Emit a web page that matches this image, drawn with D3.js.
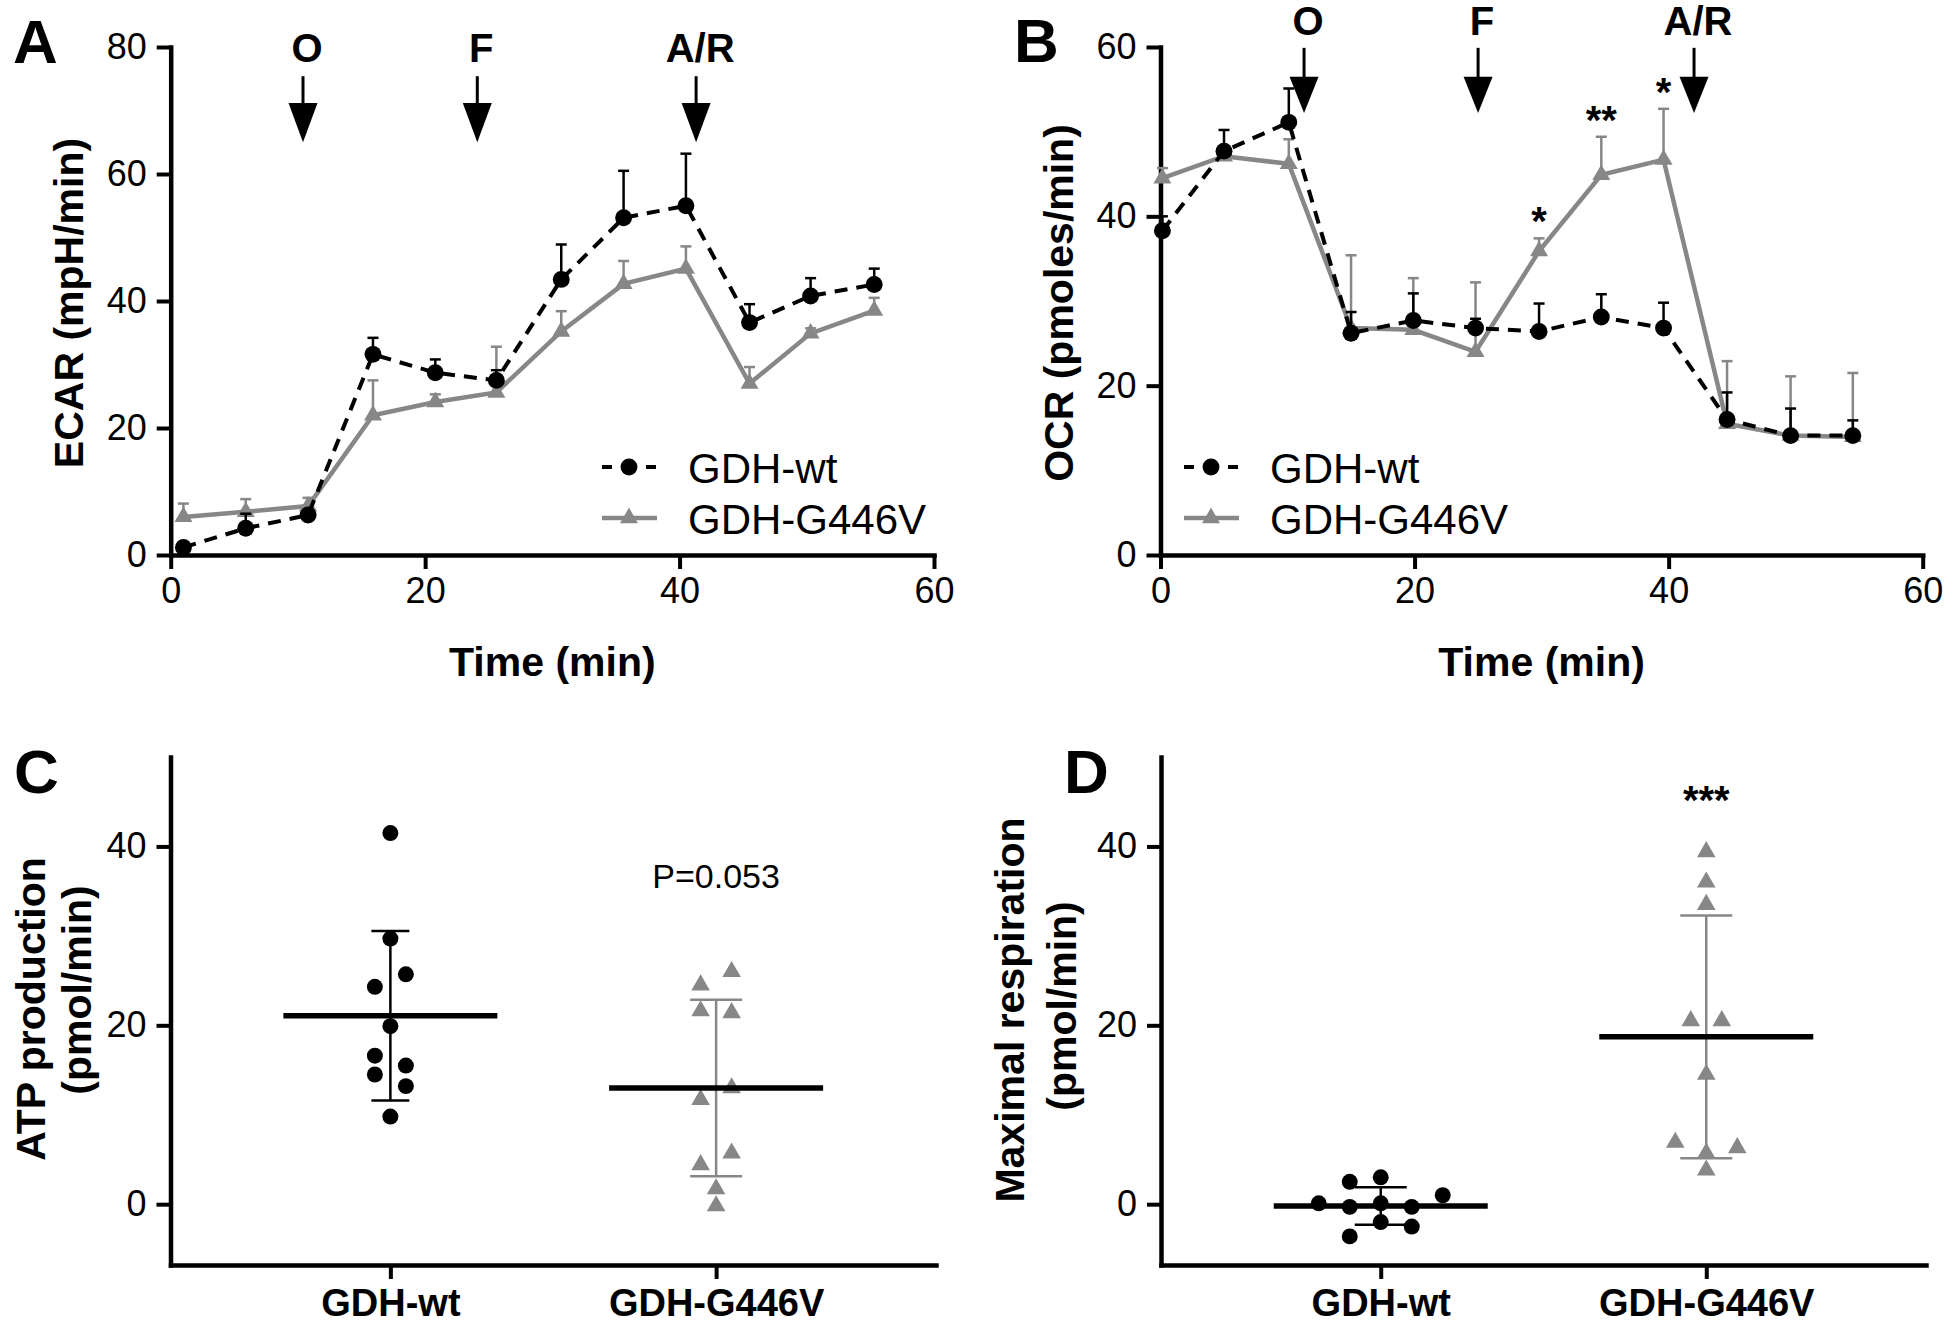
<!DOCTYPE html>
<html>
<head>
<meta charset="utf-8">
<script src="https://cdn.jsdelivr.net/npm/d3@7"></script>
<style>
  body { margin: 0; background: #fff; }
  svg text { font-family: "Liberation Sans", Arial, sans-serif; }
</style>
</head>
<body>
<svg id="fig" width="1946" height="1325"></svg>
<script>
// ---- data ----
const groups = ["GDH-wt", "GDH-G446V"];
const injections = ["O", "F", "A/R"];

// A: ECAR (mpH/min)
const ecarTime   = [1.0, 5.9, 10.8, 15.9, 20.8, 25.6, 30.7, 35.6, 40.5, 45.5, 50.3, 55.3];
const ecarWt     = [1.2, 4.2, 6.3, 31.6, 28.7, 27.5, 43.4, 53.1, 55.0, 36.6, 40.8, 42.6];
const ecarWtErr  = [0.8, 2.3, 0.8, 2.6, 2.1, 1.6, 5.5, 7.4, 8.2, 2.9, 2.8, 2.5];
const ecarMut    = [6.0, 6.8, 7.7, 22.0, 24.1, 25.6, 35.2, 42.7, 45.1, 27.0, 34.9, 38.5];
const ecarMutErr = [2.1, 2.0, 1.3, 5.5, 1.2, 7.2, 3.2, 3.6, 3.5, 2.6, 0.8, 2.0];
const ecarInjectAt = [10.4, 24.1, 41.3];

// B: OCR (pmoles/min)
const ocrTime   = [0.15, 5.0, 10.1, 15.0, 19.9, 24.8, 29.8, 34.7, 39.6, 44.6, 49.6, 54.5];
const ocrWt     = [38.3, 47.7, 51.1, 26.2, 27.7, 26.8, 26.4, 28.1, 26.8, 16.0, 14.1, 14.1];
const ocrWtErr  = [1.7, 2.5, 4.0, 2.5, 3.2, 1.1, 3.3, 2.7, 3.0, 3.2, 3.2, 1.8];
const ocrMut    = [44.5, 47.1, 46.2, 26.8, 26.6, 24.0, 35.9, 44.9, 46.7, 15.5, 14.1, 13.95];
const ocrMutErr = [1.2, 0.6, 2.9, 8.6, 6.1, 8.2, 1.5, 4.5, 6.0, 7.4, 7.0, 7.55];
const ocrStars  = ["", "", "", "", "", "", "*", "**", "*", "", "", ""];
const ocrInjectAt = [11.3, 25.0, 42.0];

// C: ATP production (pmol/min)
const atpWt      = [41.5, 29.7, 25.7, 24.3, 19.9, 16.6, 15.5, 14.5, 13.2, 9.8];
const atpWtSlot  = [0, 0, 1, -1, 0, -1, 1, -1, 1, 0];
const atpMut     = [26.0, 24.5, 21.6, 21.4, 13.0, 11.7, 5.7, 4.4, 1.7, -0.2];
const atpMutSlot = [1, -1, -1, 1, 1, -1, 1, -1, 0, 0];
const atpNote    = "P=0.053";

// D: Maximal respiration (pmol/min)
const maxWt      = [0.1, 2.5, 3.0, -0.3, 0.1, -0.3, 1.0, -2.0, -2.5, -3.6];
const maxWtSlot  = [-2, -1, 0, -1, 0, 1, 2, 0, 1, -1];
const maxMut     = [39.4, 36.0, 33.5, 20.5, 20.5, 14.5, 6.9, 6.3, 5.7, 3.8];
const maxMutSlot = [0, 0, 0, -0.5, 0.5, 0, -1, 1, 0, 0];
const maxNote    = "***";

// ---- drawing ----
const GREY = "#878787";
const svg = d3.select("#fig");

function styleAxis(g, fontSize, bold) {
  g.select(".domain").attr("stroke-width", 4.5).attr("stroke-linecap", "square");
  g.selectAll(".tick line").attr("stroke-width", 4);
  g.selectAll(".tick text")
    .attr("font-size", fontSize)
    .attr("font-weight", bold ? "bold" : "normal")
    .attr("font-family", "Liberation Sans, Arial, sans-serif")
    .attr("fill", "#000");
}

function vTitle(x, y, text) {
  svg.append("text")
    .attr("transform", `translate(${x},${y}) rotate(-90)`)
    .attr("text-anchor", "middle")
    .attr("font-size", 41).attr("font-weight", "bold")
    .text(text);
}

function letter(x, y, t) {
  svg.append("text").attr("x", x).attr("y", y)
    .attr("font-size", 62).attr("font-weight", "bold").text(t);
}

function timePanel(cfg) {
  let x = d3.scaleLinear().domain([0, 60]).range(cfg.xr);
  let y = d3.scaleLinear().domain([0, cfg.ymax]).range([555, 47]);

  //X-AXIS
  let gx = svg.append("g")
    .attr("transform", "translate(0,555)")
    .call(d3.axisBottom(x).tickValues([0, 20, 40, 60]).tickSize(14).tickPadding(8).tickSizeOuter(0));
  styleAxis(gx, 36, false);

  //Y-AXIS
  let gy = svg.append("g")
    .attr("transform", `translate(${cfg.xr[0]},0)`)
    .call(d3.axisLeft(y).tickValues(d3.range(0, cfg.ymax + 1, 20)).tickSize(14).tickPadding(10).tickSizeOuter(0));
  styleAxis(gy, 36, false);

  const series = [
    {vals: cfg.mut, err: cfg.mutErr, color: GREY, dash: null, sym: d3.symbolTriangle, size: 140},
    {vals: cfg.wt, err: cfg.wtErr, color: "#000", dash: "13,9", sym: d3.symbolCircle, size: 225}
  ];

  series.forEach(function(s) {
    let pts = cfg.time.map((t, i) => ({t: t, v: s.vals[i], e: s.err[i]}));
    let g = svg.append("g");
    // error bars (upper only)
    g.selectAll("line.eb").data(pts).enter().append("line")
      .attr("x1", d => x(d.t)).attr("x2", d => x(d.t))
      .attr("y1", d => y(d.v)).attr("y2", d => y(d.v + d.e))
      .attr("stroke", s.color).attr("stroke-width", 2.5);
    g.selectAll("line.cap").data(pts).enter().append("line")
      .attr("x1", d => x(d.t) - 5.5).attr("x2", d => x(d.t) + 5.5)
      .attr("y1", d => y(d.v + d.e)).attr("y2", d => y(d.v + d.e))
      .attr("stroke", s.color).attr("stroke-width", 2.5);
    g.append("path").datum(pts)
      .attr("d", d3.line().x(d => x(d.t)).y(d => y(d.v)))
      .attr("fill", "none").attr("stroke", s.color)
      .attr("stroke-width", s.dash ? 4 : 4.5)
      .attr("stroke-dasharray", s.dash);
    g.selectAll("path.m").data(pts).enter().append("path")
      .attr("d", d3.symbol().type(s.sym).size(s.size))
      .attr("transform", d => `translate(${x(d.t)},${y(d.v)})`)
      .attr("fill", s.color);
  });

  // significance marks
  if (cfg.stars) {
    cfg.stars.forEach(function(st, i) {
      if (!st) return;
      svg.append("text")
        .attr("x", x(cfg.time[i])).attr("y", y(cfg.mut[i] + cfg.mutErr[i]) - 3)
        .attr("text-anchor", "middle").attr("font-size", 40).attr("font-weight", "bold")
        .text(st);
    });
  }

  // injection arrows
  injections.forEach(function(lab, i) {
    let ax = x(cfg.inject[i]);
    svg.append("text").attr("x", ax + 4).attr("y", y(cfg.arrow.label))
      .attr("text-anchor", "middle").attr("font-size", 40).attr("font-weight", "bold")
      .text(lab);
    svg.append("line").attr("x1", ax).attr("x2", ax)
      .attr("y1", y(cfg.arrow.top)).attr("y2", y(cfg.arrow.head) + 2)
      .attr("stroke", "#000").attr("stroke-width", 3);
    let ht = y(cfg.arrow.head), tp = y(cfg.arrow.tip);
    svg.append("path")
      .attr("d", `M${ax - 14.5},${ht}L${ax + 14.5},${ht}L${ax},${tp}Z`)
      .attr("fill", "#000");
  });

  // legend
  let lg = svg.append("g");
  [0, 1].forEach(function(k) {
    let s = k === 0 ? series[1] : series[0];
    let ly = k === 0 ? 467 : 518;
    lg.append("line").attr("x1", cfg.leg).attr("x2", cfg.leg + 55)
      .attr("y1", ly).attr("y2", ly)
      .attr("stroke", s.color).attr("stroke-width", s.dash ? 4 : 4.5)
      .attr("stroke-dasharray", s.dash ? "10,12" : null);
    lg.append("path").attr("d", d3.symbol().type(s.sym).size(s.size))
      .attr("transform", `translate(${cfg.leg + 27},${ly})`).attr("fill", s.color);
    lg.append("text").attr("x", cfg.leg + 86).attr("y", ly + 16)
      .attr("font-size", 42).text(groups[k]);
  });

  svg.append("text").attr("x", (cfg.xr[0] + cfg.xr[1]) / 2).attr("y", 676)
    .attr("text-anchor", "middle").attr("font-size", 41).attr("font-weight", "bold")
    .text("Time (min)");
  vTitle(cfg.xr[0] - 88, 303, cfg.title);
}

timePanel({
  xr: [170.7, 934], ymax: 80, title: "ECAR (mpH/min)",
  time: ecarTime, wt: ecarWt, wtErr: ecarWtErr, mut: ecarMut, mutErr: ecarMutErr,
  inject: ecarInjectAt, arrow: {label: 77.6, top: 75.4, head: 71.2, tip: 65.0},
  leg: 602
});
timePanel({
  xr: [1160.5, 1922.7], ymax: 60, title: "OCR (pmoles/min)",
  time: ocrTime, wt: ocrWt, wtErr: ocrWtErr, mut: ocrMut, mutErr: ocrMutErr,
  stars: ocrStars,
  inject: ocrInjectAt, arrow: {label: 61.4, top: 59.9, head: 56.5, tip: 52.2},
  leg: 1184
});

function dotPanel(cfg) {
  let x = d3.scalePoint().domain(groups).range(cfg.xr).padding(0.675);
  let y = d3.scaleLinear().domain([-6.8, 50]).range([1265, 757]);

  let gx = svg.append("g").attr("transform", "translate(0,1265)")
    .call(d3.axisBottom(x).tickSize(14).tickPadding(10).tickSizeOuter(0));
  styleAxis(gx, 38, true);
  let gy = svg.append("g").attr("transform", `translate(${cfg.xr[0]},0)`)
    .call(d3.axisLeft(y).tickValues([0, 20, 40]).tickSize(14).tickPadding(10).tickSizeOuter(0));
  styleAxis(gy, 36, false);

  const sets = [
    {name: groups[0], vals: cfg.wt, slot: cfg.wtSlot, color: "#000", sym: d3.symbolCircle, size: 200, cap: cfg.wtCap},
    {name: groups[1], vals: cfg.mut, slot: cfg.mutSlot, color: GREY, sym: d3.symbolTriangle, size: 150, cap: 52}
  ];
  sets.forEach(function(s) {
    let cx = x(s.name);
    let m = d3.mean(s.vals), sd = d3.deviation(s.vals);
    let g = svg.append("g");
    g.selectAll("path").data(s.vals).enter().append("path")
      .attr("d", d3.symbol().type(s.sym).size(s.size))
      .attr("transform", (d, i) => `translate(${cx + s.slot[i] * cfg.spacing},${y(d)})`)
      .attr("fill", s.color);
    g.append("line").attr("x1", cx).attr("x2", cx)
      .attr("y1", y(m + sd)).attr("y2", y(m - sd))
      .attr("stroke", s.color).attr("stroke-width", 2.5);
    [m + sd, m - sd].forEach(function(v) {
      g.append("line").attr("x1", cx - s.cap / 2).attr("x2", cx + s.cap / 2)
        .attr("y1", y(v)).attr("y2", y(v))
        .attr("stroke", s.color).attr("stroke-width", 2.5);
    });
    g.append("line").attr("x1", cx - 107).attr("x2", cx + 107)
      .attr("y1", y(m)).attr("y2", y(m))
      .attr("stroke", "#000").attr("stroke-width", 5.5);
  });

  svg.append("text").attr("x", x(groups[1])).attr("y", y(cfg.note.at))
    .attr("text-anchor", "middle").attr("font-size", cfg.note.size)
    .attr("font-weight", cfg.note.bold ? "bold" : "normal")
    .text(cfg.note.text);

  vTitle(cfg.t1[0], cfg.t1[1], cfg.titles[0]);
  vTitle(cfg.t2[0], cfg.t2[1], cfg.titles[1]);
}

dotPanel({
  xr: [170.5, 936], wt: atpWt, wtSlot: atpWtSlot, mut: atpMut, mutSlot: atpMutSlot,
  spacing: 15.5, wtCap: 38,
  note: {text: atpNote, at: 35.4, size: 34, bold: false},
  titles: ["ATP production", "(pmol/min)"], t1: [45, 1009], t2: [91, 990]
});
dotPanel({
  xr: [1161, 1926], wt: maxWt, wtSlot: maxWtSlot, mut: maxMut, mutSlot: maxMutSlot,
  spacing: 31, wtCap: 52,
  note: {text: maxNote, at: 43.6, size: 40, bold: true},
  titles: ["Maximal respiration", "(pmol/min)"], t1: [1024, 1010], t2: [1076, 1006]
});

letter(13, 63, "A");
letter(1014, 62, "B");
letter(14, 793, "C");
letter(1064, 793, "D");
</script>
</body>
</html>
